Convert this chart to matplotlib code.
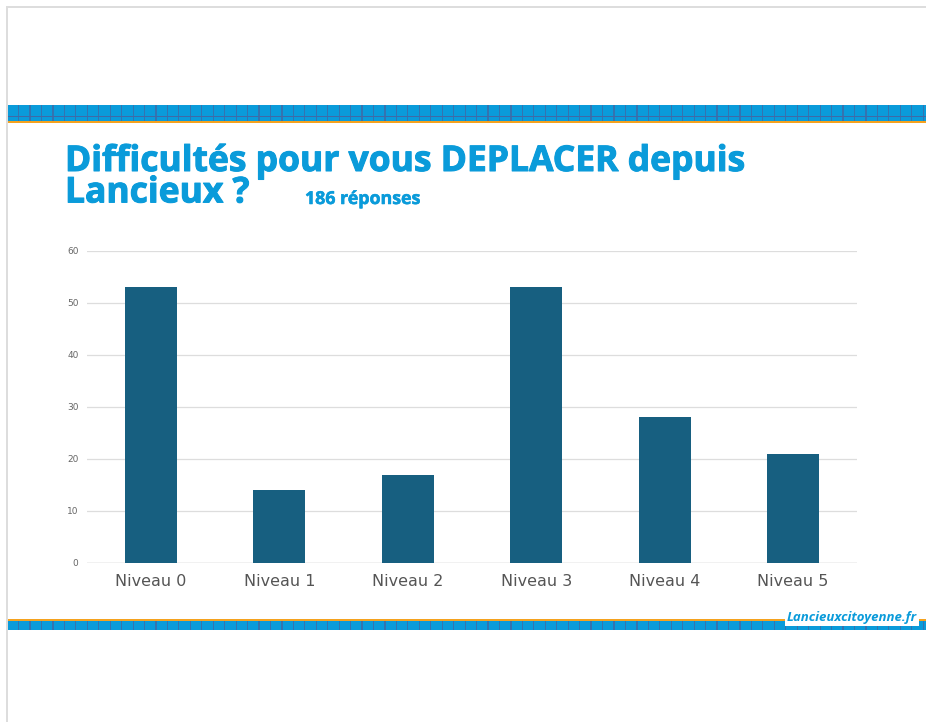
"""Bar chart: Difficultés pour vous DEPLACER depuis Lancieux ?"""

import matplotlib

matplotlib.use("Agg")
import matplotlib.pyplot as plt
import matplotlib.patheffects as pe
from matplotlib import font_manager
from matplotlib.font_manager import FontProperties
from matplotlib.patches import Rectangle

categories = ["Niveau 0", "Niveau 1", "Niveau 2", "Niveau 3", "Niveau 4", "Niveau 5"]
counts = [53, 14, 17, 53, 28, 21]
y_ticks = [0, 10, 20, 30, 40, 50, 60]

W, H = 926, 722
BLUE = "#0a9bda"
DARK_LINE = "#3f6aa6"
ORANGE = "#f5a21e"
BAR = "#175f80"


def open_sans(style="normal"):
    # pick a regular-width bold Open Sans file (skip condensed cuts)
    cands = [f for f in font_manager.fontManager.ttflist
             if f.name == "Open Sans" and f.style == style
             and "ondensed" not in f.fname and f.weight in (700, "bold")]
    if cands:
        return FontProperties(fname=cands[0].fname)
    return FontProperties(family="DejaVu Sans", weight="bold", style=style)


title_fp = open_sans()
foot_fp = open_sans("italic")
thick = [pe.withStroke(linewidth=0.75, foreground=BLUE)]

fig = plt.figure(figsize=(W / 100, H / 100), dpi=100)

# overlay in pixel coordinates for the slide decoration
deco = fig.add_axes([0, 0, 1, 1], zorder=0)
deco.set_xlim(0, W)
deco.set_ylim(H, 0)
deco.axis("off")

# slide border (top and left)
deco.add_patch(Rectangle((7, 6), W - 7, 2, color="#dddddd", lw=0))
deco.add_patch(Rectangle((6, 6), 2, H - 6, color="#dddddd", lw=0))


def band(y0, y1, orange_y, hline_y=None):
    deco.add_patch(Rectangle((8, y0), W - 8, y1 - y0, color=BLUE, lw=0))
    deco.add_patch(Rectangle((8, orange_y), W - 8, 2, color=ORANGE, lw=0))
    if hline_y is not None:
        deco.add_patch(Rectangle((8, hline_y), W - 8, 1.2, color=DARK_LINE, lw=0))
    x = 18.0
    while x < W:
        deco.add_patch(Rectangle((x, y0), 1.2, y1 - y0, color=DARK_LINE, lw=0, alpha=0.8))
        x += 11.45


band(105, 121, 121, hline_y=116)
band(621, 630, 619)

# title (two tight lines in one text)
deco.text(65, 144, "Difficultés pour vous DEPLACER depuis\nLancieux ?", color=BLUE,
          fontproperties=title_fp, fontsize=25.5, va="top", linespacing=0.83,
          path_effects=thick)
deco.text(305, 204, "186 réponses", color=BLUE, fontproperties=title_fp,
          fontsize=12.8, va="baseline", path_effects=[pe.withStroke(linewidth=0.4, foreground=BLUE)])

# footer
deco.text(917, 621, "Lancieuxcitoyenne.fr", color=BLUE, fontproperties=foot_fp,
          fontsize=9.5, ha="right", va="baseline", zorder=5,
          bbox=dict(facecolor="white", edgecolor="none", pad=1.5))

# chart
left, right = 86.8 / W, 857.2 / W
bottom, top = 1 - 563 / H, 1 - 251 / H
ax = fig.add_axes([left, bottom, right - left, top - bottom], zorder=2)
ax.patch.set_alpha(0)
ax.bar(range(len(categories)), counts, width=0.405, color=BAR, zorder=3)
ax.set_xlim(-0.5, len(categories) - 0.5)
ax.set_ylim(0, 60)
ax.set_yticks(y_ticks)
ax.set_xticks(range(len(categories)))
ax.set_xticklabels(categories, fontsize=11.5, color="#555555")
ax.tick_params(axis="y", labelsize=6.5, colors="#666666", length=0, pad=6)
ax.tick_params(axis="x", length=0, pad=8)
ax.grid(axis="y", color="#dddddd", lw=0.9, zorder=0)
for s in ax.spines.values():
    s.set_visible(False)
ax.axhline(0, color="#cccccc", lw=1.0, zorder=1)

fig.savefig("out.png", dpi=100)
plt.close(fig)
